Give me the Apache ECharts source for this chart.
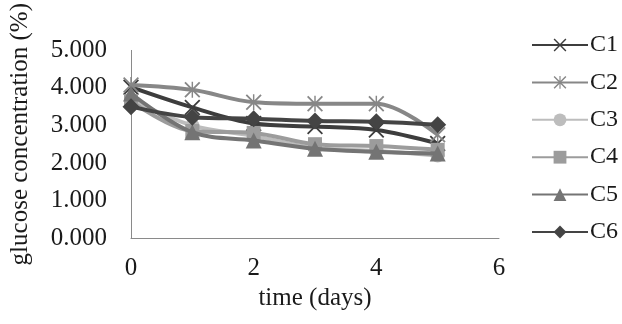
<!DOCTYPE html>
<html>
<head>
<meta charset="utf-8">
<script src="https://cdn.jsdelivr.net/npm/echarts@6/dist/echarts.min.js"></script>
<style>
  html, body { margin: 0; padding: 0; background: #fff; }
  #chart { width: 622px; height: 324px; }
</style>
</head>
<body>
<div id="chart"></div>
<script>
// Glucose concentration over time for six cultures
const days = [0, 1, 2, 3, 4, 5];
const seriesNames = ['C1', 'C2', 'C3', 'C4', 'C5', 'C6'];
const c1 = [4.02, 3.48, 3.05, 2.97, 2.88, 2.52];
const c2 = [4.08, 3.95, 3.62, 3.58, 3.58, 2.75];
const c3 = [3.70, 3.00, 2.72, 2.40, 2.32, 2.20];
const c4 = [3.65, 2.85, 2.80, 2.50, 2.45, 2.35];
const c5 = [3.85, 2.82, 2.60, 2.38, 2.30, 2.25];
const c6 = [3.50, 3.22, 3.18, 3.12, 3.10, 3.02];
const xTicks = [0, 2, 4, 6];
const yTicks = [0, 1, 2, 3, 4, 5];

const values = [c1, c2, c3, c4, c5, c6];

// Marker shapes: crossed bars drawn as filled polygons
const crossPath = 'path://M0,1.6L1.6,0L20,18.4L18.4,20Z M18.4,0L20,1.6L1.6,20L0,18.4Z';
const starPath = 'path://M0,1.6L1.6,0L20,18.4L18.4,20Z M18.4,0L20,1.6L1.6,20L0,18.4Z M9.1,0L10.9,0L10.9,20L9.1,20Z';

const styles = [
  { color: '#3d3d3d', symbol: crossPath, size: 16 },
  { color: '#878787', symbol: starPath, size: 16 },
  { color: '#bdbdbd', symbol: 'circle', size: 14 },
  { color: '#9c9c9c', symbol: 'rect', size: 14 },
  { color: '#747474', symbol: 'triangle', size: 16 },
  { color: '#444444', symbol: 'diamond', size: 17 }
];

const font = '"Liberation Serif", "Times New Roman", serif';
const textColor = '#1a1a1a';

const series = seriesNames.map((name, i) => ({
  name: name,
  type: 'line',
  smooth: 0.35,
  data: days.map((d, j) => [d, values[i][j]]),
  symbol: styles[i].symbol,
  symbolSize: styles[i].size,
  showAllSymbol: true,
  lineStyle: { color: styles[i].color, width: 4 },
  itemStyle: { color: styles[i].color },
  emphasis: { disabled: true },
  z: 2 + i
}));

const chart = echarts.init(document.getElementById('chart'), null, { renderer: 'canvas' });
chart.setOption({
  animation: false,
  backgroundColor: '#ffffff',
  textStyle: { fontFamily: font },
  grid: { left: 131, right: 123, top: 33, bottom: 86, containLabel: false },
  xAxis: {
    type: 'value',
    min: xTicks[0],
    max: xTicks[xTicks.length - 1],
    interval: 2,
    name: 'time (days)',
    nameLocation: 'middle',
    nameGap: 46,
    nameTextStyle: { fontFamily: font, fontSize: 25, color: textColor },
    axisLine: { show: true, lineStyle: { color: '#8a8a8a', width: 1 } },
    axisTick: { show: false },
    splitLine: { show: false },
    axisLabel: { fontFamily: font, fontSize: 25, color: textColor, margin: 18 }
  },
  yAxis: {
    type: 'value',
    min: yTicks[0],
    max: yTicks[yTicks.length - 1],
    interval: 1,
    name: 'glucose concentration (%)',
    nameLocation: 'middle',
    nameGap: 98,
    nameRotate: 90,
    nameTextStyle: { fontFamily: font, fontSize: 25, color: textColor, padding: [0, 0, 0, 20] },
    axisLine: { show: true, lineStyle: { color: '#8a8a8a', width: 1 } },
    axisTick: { show: false },
    splitLine: { show: false },
    axisLabel: {
      fontFamily: font, fontSize: 25, color: textColor, margin: 24,
      formatter: v => v.toFixed(3)
    }
  },
  legend: {
    orient: 'vertical',
    left: 531,
    top: 33,
    padding: 0,
    itemWidth: 56,
    itemHeight: 16,
    itemGap: 13.4,
    textStyle: { fontFamily: font, fontSize: 24, color: textColor, padding: [0, 0, 0, -3] },
    data: seriesNames
  },
  series: series
});
</script>
</body>
</html>
